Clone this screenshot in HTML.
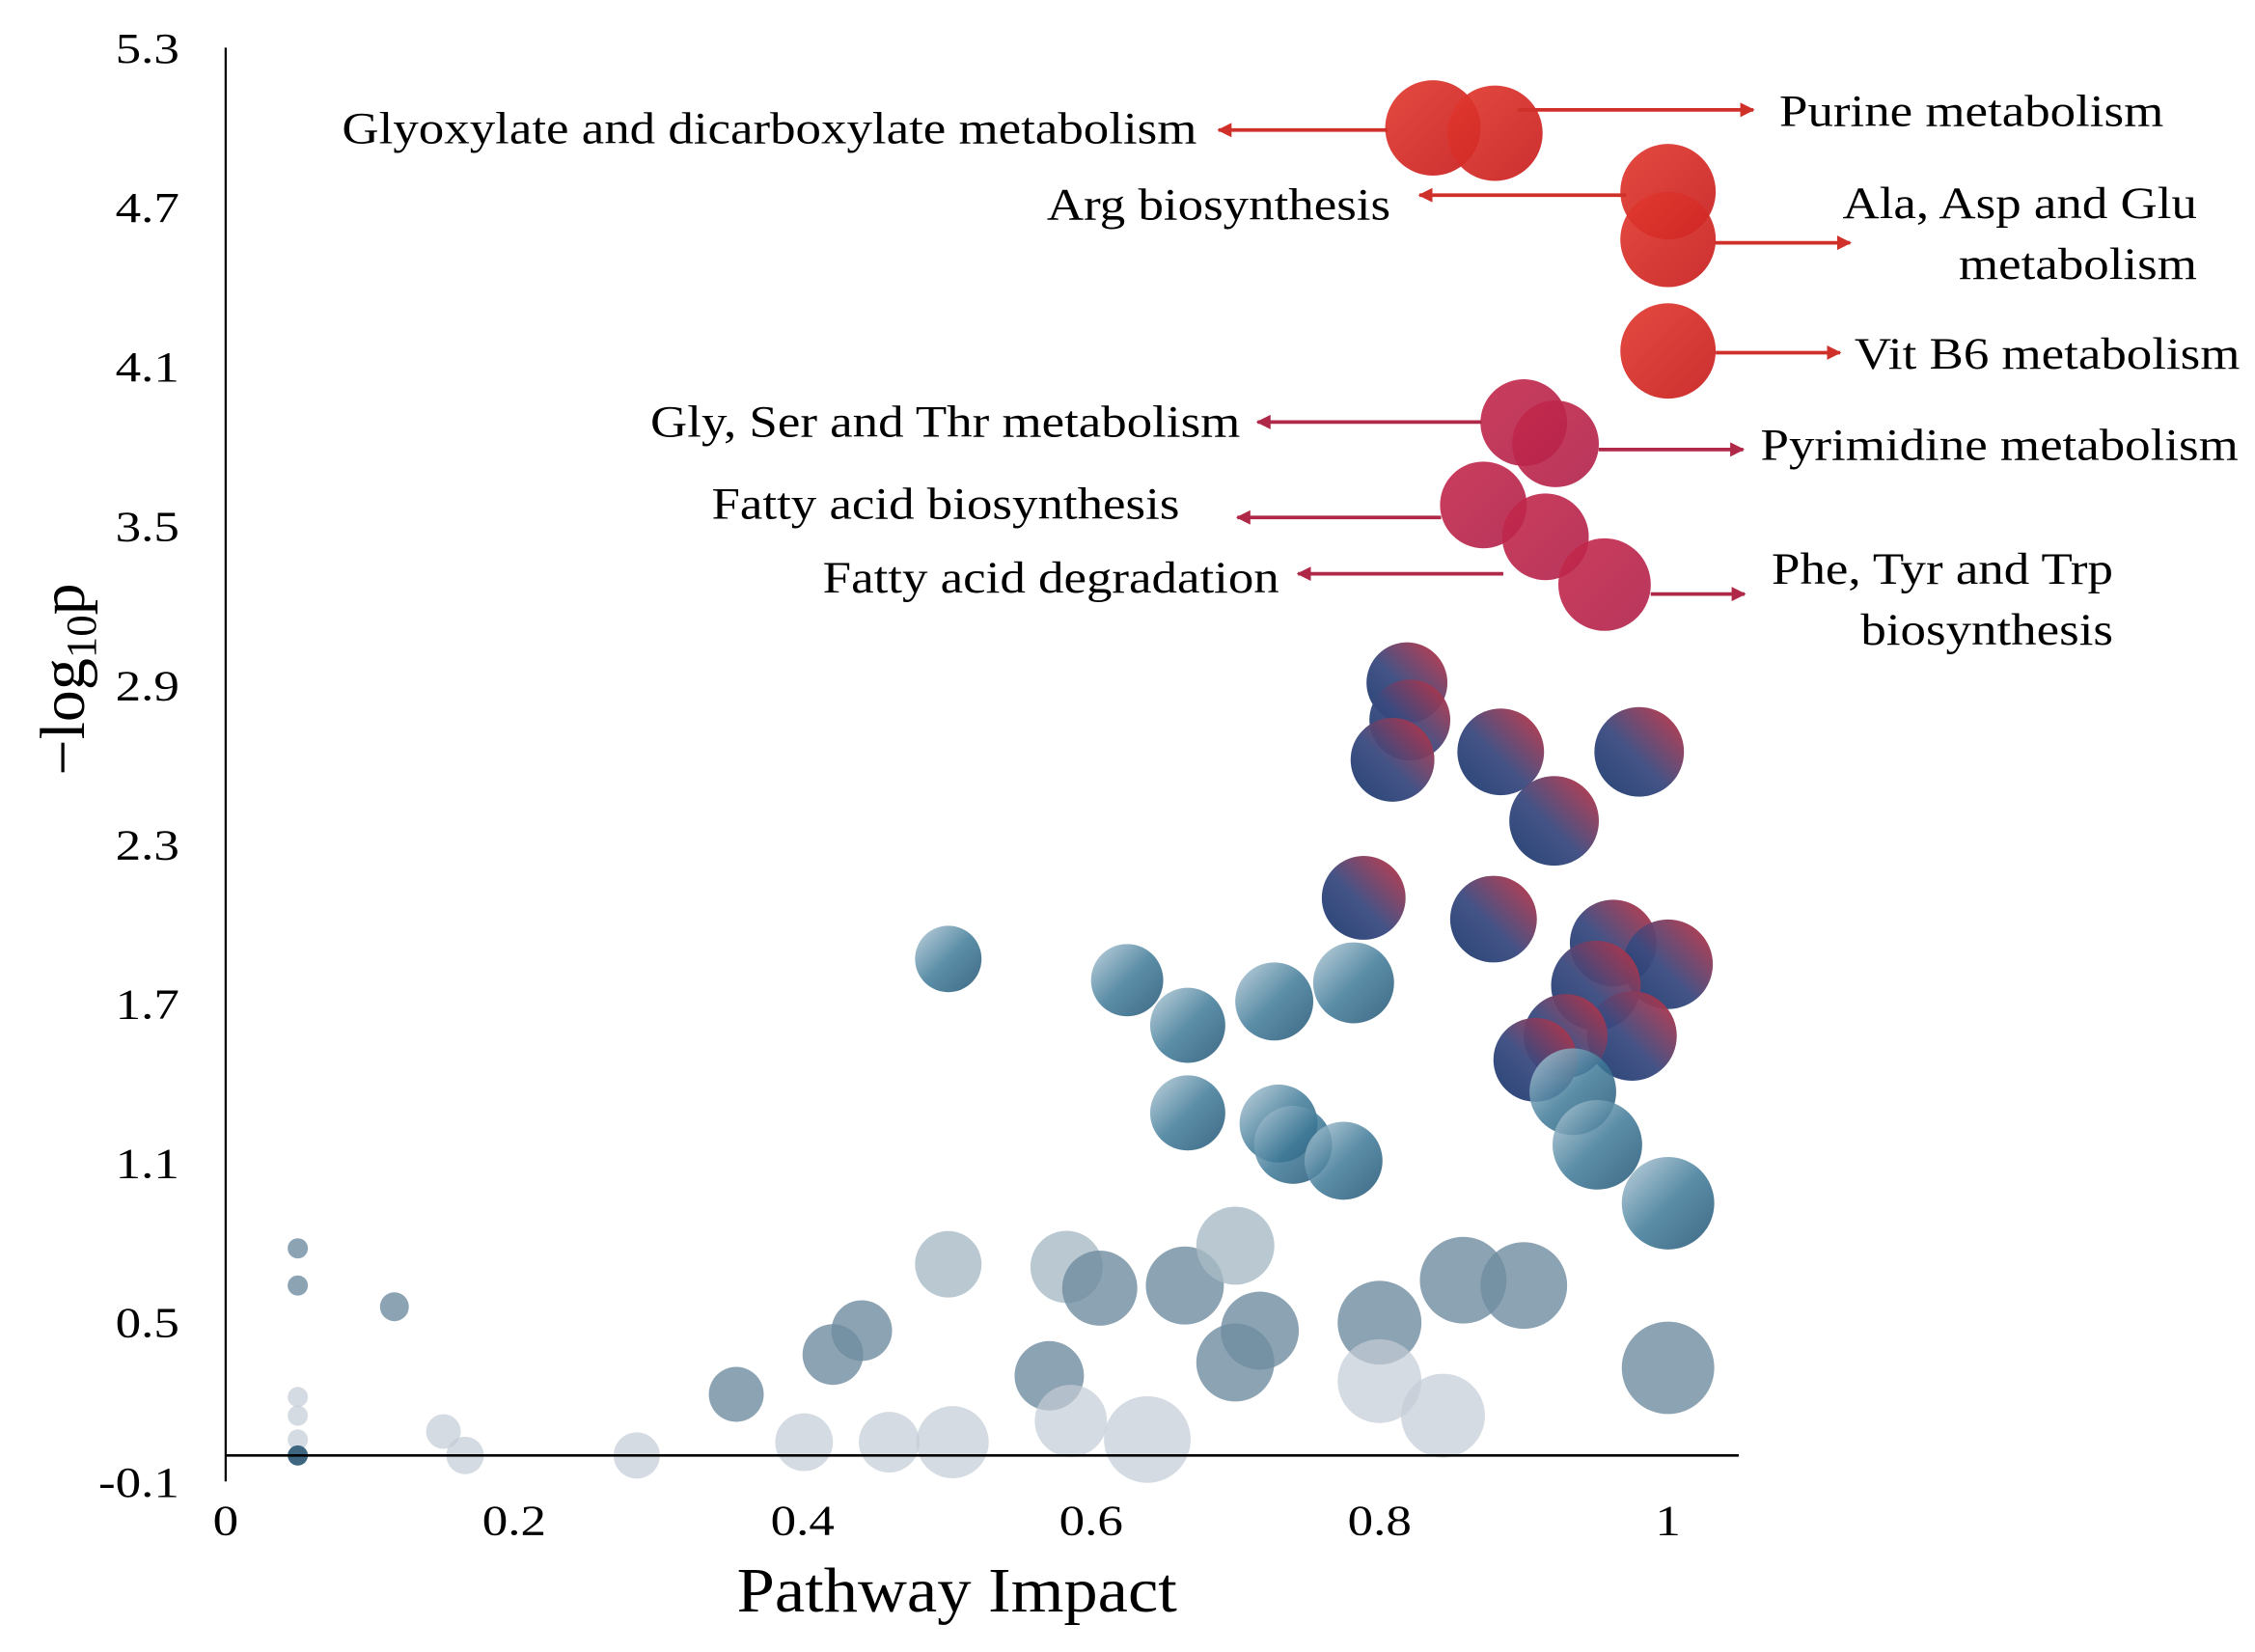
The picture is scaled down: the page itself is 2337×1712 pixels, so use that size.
<!DOCTYPE html>
<html><head><meta charset="utf-8"><style>
html,body{margin:0;padding:0;background:#fff;}
svg{display:block;font-family:"Liberation Serif",serif;}
</style></head><body>
<svg id="chart" width="2337" height="1712" viewBox="0 0 1560 1143" xmlns="http://www.w3.org/2000/svg">
<defs>
<linearGradient id="gr1" x1="0" y1="0" x2="1" y2="1"><stop offset="0" stop-color="#e23a30"/><stop offset="1" stop-color="#c81e1e"/></linearGradient>
<linearGradient id="gr2" x1="0" y1="0" x2="1" y2="1"><stop offset="0" stop-color="#c4284a"/><stop offset="1" stop-color="#b0204a"/></linearGradient>
<linearGradient id="gg" x1="1" y1="0" x2="0" y2="1"><stop offset="0" stop-color="#c8303f"/><stop offset="0.55" stop-color="#3a4a80"/><stop offset="1" stop-color="#1c3a6e"/></linearGradient>
<linearGradient id="gt" x1="0" y1="0" x2="1" y2="1"><stop offset="0" stop-color="#b7ccd8"/><stop offset="0.5" stop-color="#3f7a98"/><stop offset="1" stop-color="#1d4f70"/></linearGradient>
<marker id="ah" markerWidth="10" markerHeight="10" refX="9" refY="5" orient="auto" markerUnits="userSpaceOnUse"><path d="M0,0 L10,5 L0,10 z" fill="context-stroke"/></marker>
</defs>
<g id="marks"></g>
<g id="axes"></g>
<g id="annot"></g>
</svg>
<script>
const xs=[0.837,0.880,1.0,1.0,1.0,0.900,0.922,0.872,0.915,0.956,
0.819,0.821,0.809,0.884,0.980,0.921,0.789,0.879,0.962,1.0,0.950,0.975,0.929,0.908,
0.501,0.625,0.667,0.727,0.782,0.667,0.730,0.740,0.775,0.934,0.951,1.0,
0.05,0.05,0.117,0.05,0.05,0.05,0.05,0.151,0.166,0.285,0.354,0.401,0.421,0.441,0.46,0.501,0.504,0.571,0.583,0.586,0.606,0.639,0.665,0.700,0.700,0.717,0.800,0.800,0.844,0.858,0.900,1.0];
const ys=[5.00,4.98,4.76,4.58,4.16,3.89,3.81,3.58,3.46,3.28,
2.91,2.77,2.62,2.65,2.65,2.39,2.10,2.02,1.93,1.85,1.77,1.58,1.58,1.49,
1.87,1.79,1.62,1.71,1.78,1.29,1.25,1.17,1.11,1.37,1.17,0.95,
0.78,0.64,0.56,0.22,0.15,0.06,0.0,0.09,0.0,0.0,0.23,0.05,0.38,0.47,0.05,0.72,0.05,0.30,0.71,0.13,0.63,0.06,0.64,0.35,0.79,0.47,0.50,0.28,0.15,0.66,0.64,0.33];
const sizes=[33,33,33,33,33,30,30,30,30,32,
28,28,29,30,31,31,29,30,30,31,31,31,29,29,
23,25,26,27,28,26,27,27,27,30,31,32,
7,7,10,7,7,7,7,12,13,16,19,20,21,21,21,23,25,24,25,25,26,30,27,27,27,27,29,29,29,30,30,32];
const groups=['r1','r1','r1','r1','r1','r2','r2','r2','r2','r2',
'g','g','g','g','g','g','g','g','g','g','g','g','g','g',
't','t','t','t','t','t','t','t','t','t','t','t',
's','s','s','l','l','l','d','l','l','l','s','l','s','s','l','b','l','s','b','l','s','l','s','s','b','s','s','l','l','s','s','s'];
const yTicks=[5.3,4.7,4.1,3.5,2.9,2.3,1.7,1.1,0.5,-0.1];
const xTicks=[0,0.2,0.4,0.6,0.8,1];
const xTickLabels=['0','0.2','0.4','0.6','0.8','1'];
const X=v=>156+v*998, Y=v=>1007-v*183.7;
const NS='http://www.w3.org/2000/svg';
const fills={r1:'url(#gr1)',r2:'url(#gr2)',g:'url(#gg)',t:'url(#gt)',s:'#6f8ca0',l:'#c3ccd5',b:'#a7bac6',d:'#3e6680'};
const ops={r1:0.92,r2:0.9,g:0.95,t:0.85,s:0.8,l:0.7,b:0.8,d:1};
const mk=document.getElementById('marks');
xs.forEach((x,i)=>{const c=document.createElementNS(NS,'circle');
c.setAttribute('cx',X(x));c.setAttribute('cy',Y(ys[i]));c.setAttribute('r',sizes[i]);
c.setAttribute('fill',fills[groups[i]]);c.setAttribute('fill-opacity',ops[groups[i]]);


mk.appendChild(c);});
const ax=document.getElementById('axes');
function add(p,tag,attrs,txt){const e=document.createElementNS(NS,tag);for(const k in attrs)e.setAttribute(k,attrs[k]);if(txt!==undefined)e.textContent=txt;p.appendChild(e);return e;}
function txt(p,x,y,sx,attrs,s){attrs.x=0;attrs.y=0;attrs.transform='translate('+x+','+y+') scale('+sx+',1)';return add(p,'text',attrs,s);}
const yl=add(ax,'line',{x1:156,y1:33,x2:156,y2:1025,stroke:'#000','stroke-width':1.5});


const xl=add(ax,'line',{x1:156,y1:Y(0),x2:1203,y2:Y(0),stroke:'#000','stroke-width':1.8});


yTicks.forEach(v=>{const t=txt(ax,124,Y(v)+10,1.18,{'text-anchor':'end','font-size':30},v.toFixed(1));

});
xTicks.forEach((v,i)=>{const t=txt(ax,X(v),1062,1.18,{'text-anchor':'middle','font-size':30},xTickLabels[i]);

});
const xt=txt(ax,662,1115,1.07,{'text-anchor':'middle','font-size':44},'Pathway Impact');


const yt=add(ax,'text',{x:0,y:0,'text-anchor':'middle','font-size':44,transform:'translate(58,470) rotate(-90)'});


yt.innerHTML='−log<tspan font-size="30" dy="8">10</tspan><tspan dy="-8">p</tspan>';
const an=document.getElementById('annot');
const labels=[
{t:['Glyoxylate and dicarboxylate metabolism'],x:828,y:99,a:'end',ax1:960,ax2:843,ay:90,c:'#d0302a'},
{t:['Purine metabolism'],x:1231,y:87,a:'start',ax1:1050,ax2:1213,ay:76,c:'#d0302a'},
{t:['Arg biosynthesis'],x:962,y:152,a:'end',ax1:1125,ax2:982,ay:135,c:'#d0302a'},
{t:['Ala, Asp and Glu','metabolism'],x:1520,y:151,a:'end',ax1:1186,ax2:1280,ay:168,c:'#d0302a'},
{t:['Vit B6 metabolism'],x:1283,y:255,a:'start',ax1:1187,ax2:1273,ay:244,c:'#d0302a'},
{t:['Gly, Ser and Thr metabolism'],x:858,y:302,a:'end',ax1:1025,ax2:870,ay:292,c:'#b02848'},
{t:['Pyrimidine metabolism'],x:1218,y:318,a:'start',ax1:1106,ax2:1206,ay:311,c:'#b02848'},
{t:['Fatty acid biosynthesis'],x:816,y:359,a:'end',ax1:997,ax2:856,ay:358,c:'#b02848'},
{t:['Fatty acid degradation'],x:885,y:410,a:'end',ax1:1040,ax2:898,ay:397,c:'#b02848'},
{t:['Phe, Tyr and Trp','biosynthesis'],x:1462,y:404,a:'end',ax1:1142,ax2:1207,ay:411,c:'#b02848'}];
labels.forEach(L=>{
const l=add(an,'line',{x1:L.ax1,y1:L.ay,x2:L.ax2,y2:L.ay,stroke:L.c,'stroke-width':2.5,'marker-end':'url(#ah)'});


const t=txt(an,L.x,L.y,1.14,{'text-anchor':L.a,'font-size':31});


L.t.forEach((s,i)=>{add(t,'tspan',{x:0,dy:i?42:0},s);});
});
</script>
</body></html>
